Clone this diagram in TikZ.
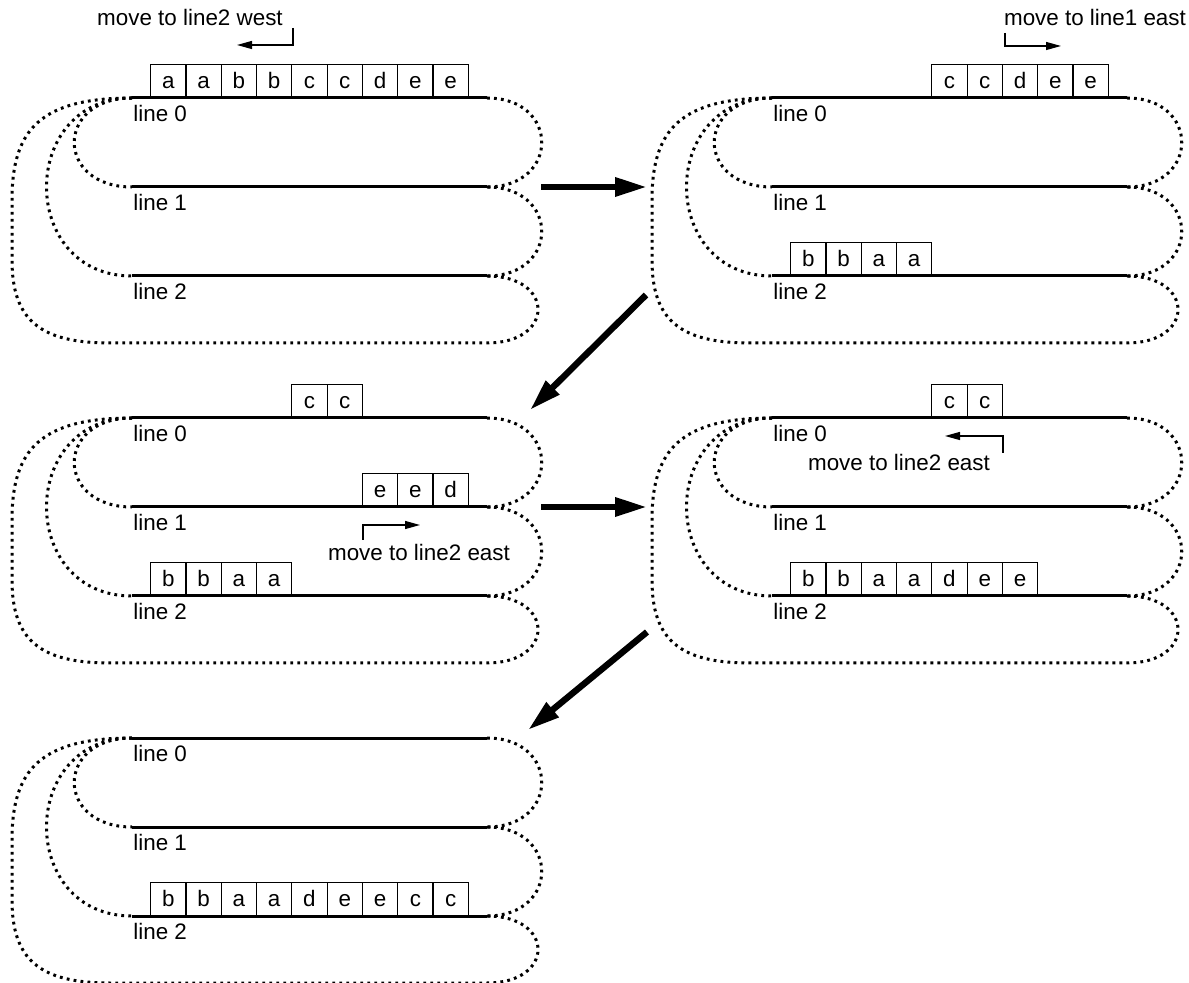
\documentclass[tikz,border=0pt]{standalone}
\usepackage{fontspec}
\setmainfont{Liberation Sans}
\usetikzlibrary{arrows.meta}

\tikzset{
  track/.style={line width=1.5pt},
  wrap/.style={line width=1.5pt, dash pattern=on 1.4pt off 2.1pt},
  cell/.style={draw, line width=0.6pt, anchor=south west, inner sep=0pt,
    minimum width=17.65pt, minimum height=16.5pt, text height=8pt, text depth=0pt},
  tag/.style={anchor=north west, inner sep=0pt},
  hint/.style={line width=0.6pt, -{Triangle[length=7.5pt,width=4pt]}},
  bigarrow/.style={line width=3.2pt, -{Triangle[length=16pt,width=9pt]}}
}

\begin{document}
\begin{tikzpicture}[x=0.5pt,y=-0.5pt,font=\fontsize{11.2}{13}\selectfont]
  \useasboundingbox (0,0) rectangle (1189,983);

  % three lines and their wrap-around, once per step
  \foreach \p/\dx/\dy in {1/0/0,2/640/0,3/0/320,4/640/320,5/0/640} {
    \begin{scope}[shift={(\dx,\dy)}]
      \foreach \l in {0,1,2} {
        \coordinate (w\l-\p) at (132,98+89*\l);
        \coordinate (e\l-\p) at (487,98+89*\l);
        \draw[track] (w\l-\p) -- (e\l-\p);
        \node[tag] (n\l-\p) at (133,105+89*\l) {line \l};
      }
      \draw[wrap] (e0-\p) .. controls (560,98) and (560,187) .. (e1-\p);
      \draw[wrap] (e1-\p) .. controls (560,187) and (560,276) .. (e2-\p);
      \draw[wrap] (w0-\p) .. controls (55,98) and (55,187) .. (w1-\p);
      \draw[wrap] (w0-\p) .. controls (18,98) and (18,276) .. (w2-\p);
      \draw[wrap] (e2-\p) .. controls (555,276) and (555,343) .. (487,343)
        -- (110,343) .. controls (40,343) and (12,320) .. (12,260)
        -- (12,200) .. controls (12,130) and (40,98) .. (w0-\p);
    \end{scope}
  }

  % step 1
  \foreach \ch [count=\k from 0] in {a,a,b,b,c,c,d,e,e}
    \node[cell] (s1-\k) at (150+35.3*\k,98) {\ch};
  \node (t1) at (190,18) {move to line2 west};
  \coordinate (h1s) at (293,28);
  \coordinate (h1e) at (237,45);
  \draw[hint] (h1s) |- (h1e);

  % step 2
  \foreach \ch [count=\k from 4] in {c,c,d,e,e}
    \node[cell] (s2a-\k) at (790+35.3*\k,98) {\ch};
  \foreach \ch [count=\k from 0] in {b,b,a,a}
    \node[cell] (s2c-\k) at (790+35.3*\k,276) {\ch};
  \node (t2) at (1095,18) {move to line1 east};
  \coordinate (h2s) at (1005,33);
  \coordinate (h2e) at (1061,46);
  \draw[hint] (h2s) |- (h2e);

  % step 3
  \foreach \ch [count=\k from 4] in {c,c}
    \node[cell] (s3a-\k) at (150+35.3*\k,418) {\ch};
  \foreach \ch [count=\k from 6] in {e,e,d}
    \node[cell] (s3b-\k) at (150+35.3*\k,507) {\ch};
  \foreach \ch [count=\k from 0] in {b,b,a,a}
    \node[cell] (s3c-\k) at (150+35.3*\k,596) {\ch};
  \node (t3) at (419,552) {move to line2 east};
  \coordinate (h3s) at (363,540);
  \coordinate (h3e) at (420,525);
  \draw[hint] (h3s) |- (h3e);

  % step 4
  \foreach \ch [count=\k from 4] in {c,c}
    \node[cell] (s4a-\k) at (790+35.3*\k,418) {\ch};
  \foreach \ch [count=\k from 0] in {b,b,a,a,d,e,e}
    \node[cell] (s4c-\k) at (790+35.3*\k,596) {\ch};
  \node (t4) at (899,462) {move to line2 east};
  \coordinate (h4s) at (1003,453);
  \coordinate (h4e) at (945,436);
  \draw[hint] (h4s) |- (h4e);

  % step 5
  \foreach \ch [count=\k from 0] in {b,b,a,a,d,e,e,c,c}
    \node[cell] (s5c-\k) at (150+35.3*\k,916) {\ch};

  % steps
  \coordinate (b1s) at (541,187);
  \coordinate (b1e) at (647,187);
  \coordinate (b2s) at (646,295);
  \coordinate (b2e) at (530,410);
  \coordinate (b3s) at (541,507);
  \coordinate (b3e) at (647,507);
  \coordinate (b4s) at (647,632);
  \coordinate (b4e) at (528,730);
  \draw[bigarrow] (b1s) -- (b1e);
  \draw[bigarrow] (b2s) -- (b2e);
  \draw[bigarrow] (b3s) -- (b3e);
  \draw[bigarrow] (b4s) -- (b4e);
\end{tikzpicture}
\end{document}
